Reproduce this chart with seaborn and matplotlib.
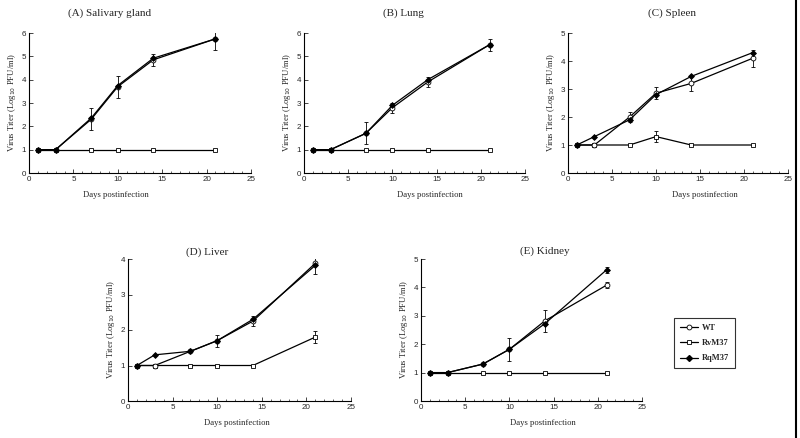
import numpy as np
import pandas as pd
import seaborn as sns
import matplotlib.pyplot as plt
from matplotlib.lines import Line2D

days = [1, 3, 7, 10, 14, 21]

# (A) Salivary gland
sal_wt = [1, 1, 2.3, 3.7, 4.85, 5.75]
sal_rv = [1, 1, 1, 1, 1, 1]
sal_rq = [1, 1, 2.35, 3.75, 4.92, 5.75]
sal_err = [0, 0, 0.47, 0.47, 0.25, 0.47]

# (B) Lung
lung_wt = [1, 1, 1.7, 2.8, 3.9, 5.5]
lung_rv = [1, 1, 1, 1, 1, 1]
lung_rq = [1, 1, 1.7, 2.9, 4.0, 5.5]
lung_err = [0, 0, 0.47, 0.22, 0.22, 0.25]

# (C) Spleen
spl_wt = [1, 1, 2.0, 2.85, 3.2, 4.1]
spl_rv = [1, 1, 1, 1.3, 1, 1]
spl_rq = [1, 1.3, 1.9, 2.8, 3.45, 4.3]
spl_err = [0, 0, 0.17, 0.22, 0.28, 0.3]
spl_rv_err = [0, 0, 0, 0.2, 0, 0]

# (D) Liver
liv_wt = [1, 1, 1.4, 1.7, 2.25, 3.88]
liv_rv = [1, 1, 1, 1, 1, 1.8]
liv_rq = [1, 1.3, 1.4, 1.7, 2.3, 3.82]
liv_err = [0, 0, 0, 0.17, 0.15, 0.3]
liv_rv_err = [0, 0, 0, 0, 0, 0.18]

# (E) Kidney
kid_wt = [1, 1, 1.3, 1.82, 2.82, 4.08]
kid_rv = [1, 1, 1, 1, 1, 1]
kid_rq = [1, 1, 1.3, 1.82, 2.72, 4.62]
kid_err = [0, 0, 0, 0.4, 0.38, 0.1]
kid_rq_err = [0, 0, 0, 0, 0, 0.1]

titles = ["(A) Salivary gland", "(B) Lung", "(C) Spleen", "(D) Liver", "(E) Kidney"]
ymaxes = [6, 6, 5, 4, 5]

sns.set_style("ticks")
plt.rcParams['font.family'] = ['Liberation Sans', 'DejaVu Sans']

W, H = 800, 438
fig = plt.figure(figsize=(8, 4.38), dpi=100)


def rect(x0, x1, ytop, ybot):
    return [x0 / W, 1 - ybot / H, (x1 - x0) / W, (ybot - ytop) / H]


panels = [
    dict(box=rect(29, 251, 33, 173), data=(sal_wt, sal_rv, sal_rq), err=sal_err, rverr=None, rqerr=None,
         title=(110, 13), xlab=0.39),
    dict(box=rect(304, 525, 33, 173), data=(lung_wt, lung_rv, lung_rq), err=lung_err, rverr=None, rqerr=None,
         title=(403, 13), xlab=0.57),
    dict(box=rect(568, 788, 33, 173), data=(spl_wt, spl_rv, spl_rq), err=spl_err, rverr=spl_rv_err, rqerr=None,
         title=(672, 13), xlab=0.62),
    dict(box=rect(128, 351, 259, 401), data=(liv_wt, liv_rv, liv_rq), err=liv_err, rverr=liv_rv_err, rqerr=None,
         title=(207, 252), xlab=0.49),
    dict(box=rect(421, 642, 259, 401), data=(kid_wt, kid_rv, kid_rq), err=kid_err, rverr=None, rqerr=kid_rq_err,
         title=(545, 251), xlab=0.55),
]

serif = ['Liberation Serif', 'DejaVu Serif']
ebar = dict(fmt='none', ecolor='black', elinewidth=0.6, capsize=1.5, capthick=0.6)

for p, title, ymax in zip(panels, titles, ymaxes):
    ax = fig.add_axes(p['box'])
    wt, rv, rq = p['data']

    ax.errorbar(days, wt, yerr=p['err'], **ebar)
    if p['rverr'] is not None:
        ax.errorbar(days, rv, yerr=p['rverr'], **ebar)
    if p['rqerr'] is not None:
        ax.errorbar(days, rq, yerr=p['rqerr'], **ebar)

    sns.lineplot(x=days, y=rv, ax=ax, color='black', lw=0.9, marker='s', markersize=3.5,
                 markerfacecolor='white', markeredgecolor='black', markeredgewidth=0.6)
    sns.lineplot(x=days, y=wt, ax=ax, color='black', lw=0.9, marker='o', markersize=3.5,
                 markerfacecolor='white', markeredgecolor='black', markeredgewidth=0.6)
    sns.lineplot(x=days, y=rq, ax=ax, color='black', lw=0.9, marker='D', markersize=3,
                 markerfacecolor='black', markeredgecolor='black', markeredgewidth=0.6)

    ax.set_xlim(0, 25)
    ax.set_ylim(0, ymax)
    ax.set_xticks(range(0, 26, 5))
    ax.set_xticks(range(0, 26, 1), minor=True)
    ax.set_yticks(range(0, ymax + 1))
    ax.tick_params(axis='both', which='major', direction='in', length=3, width=0.6, labelsize=5.8, pad=2)
    ax.tick_params(axis='x', which='minor', direction='in', length=1.5, width=0.5)
    sns.despine(ax=ax)
    for s in ['left', 'bottom']:
        ax.spines[s].set_linewidth(0.8)
        ax.spines[s].set_color('black')

    ax.set_xlabel("Days postinfection", fontsize=6.2, family=serif)
    ax.xaxis.set_label_coords(p['xlab'], -0.13)
    ax.set_ylabel("Virus Titer (Log$_{10}$ PFU/ml)", fontsize=6.2, family=serif, labelpad=3)

    tx, ty = p['title']
    fig.text(tx / W, 1 - ty / H, title, ha='center', va='center', fontsize=8, family=serif)

# legend
handles = [
    Line2D([], [], color='black', lw=0.9, marker='o', markersize=3.5, markerfacecolor='white', markeredgewidth=0.6),
    Line2D([], [], color='black', lw=0.9, marker='s', markersize=3.5, markerfacecolor='white', markeredgewidth=0.6),
    Line2D([], [], color='black', lw=0.9, marker='D', markersize=3, markerfacecolor='black'),
]
leg = fig.legend(handles, ["WT", "RvM37", "RqM37"], loc='center', bbox_to_anchor=(704.5 / W, 1 - 343 / H),
                 frameon=True, fancybox=False, edgecolor='black', handlelength=2.2, labelspacing=0.9,
                 prop={'family': serif, 'weight': 'bold', 'size': 6}, borderpad=0.7, handletextpad=0.5)
leg.get_frame().set_linewidth(0.8)

# dark scan edge on the right border
fig.add_artist(Line2D([795.5 / W, 795.5 / W], [0, 1], color='black', lw=1.5))

fig.savefig("out.png", dpi=100)
